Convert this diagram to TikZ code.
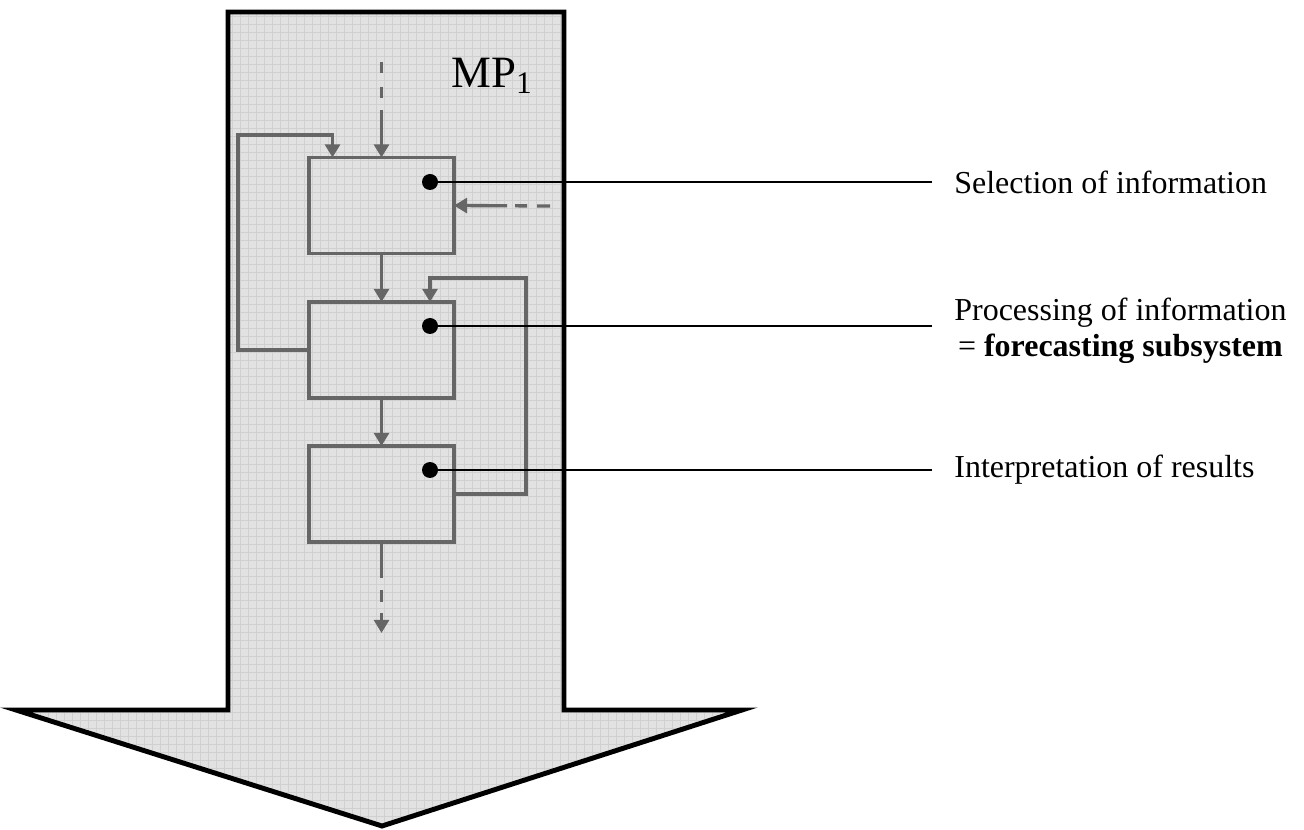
\documentclass[tikz,border=0pt]{standalone}
\usepackage{fontspec}
\setmainfont{Liberation Serif}
\usetikzlibrary{arrows.meta}
\definecolor{fillgray}{HTML}{E2E2E2}
\definecolor{gridgray}{HTML}{D0D0D0}
\definecolor{conngray}{HTML}{666666}
\tikzset{
  procbox/.style={draw=conngray, line width=2pt, minimum width=2.9cm, minimum height=1.92cm, inner sep=0pt, outer sep=0pt},
  conn/.style={draw=conngray, line width=1.9pt, -{Triangle[length=7.5pt,width=8.5pt]}},
  feedback/.style={draw=conngray, line width=1.9pt, -{Triangle[length=7.5pt,width=8.5pt]}},
  leader/.style={draw=black, line width=1.2pt},
  pin/.style={circle, fill=black, inner sep=0pt, minimum size=0.32cm},
  label/.style={anchor=west, inner sep=0pt, font=\fontsize{18.2pt}{20.5pt}\selectfont}
}
\begin{document}
\begin{tikzpicture}[x=0.02cm, y=-0.02cm]
\useasboundingbox (0,0) rectangle (1304,830);
% big arrow
\path[fill=fillgray] (228,12) -- (564,12) -- (564,710) -- (742,710) -- (382,826) -- (16,710) -- (228,710) -- cycle;
\begin{scope}
\clip (228,12) -- (564,12) -- (564,710) -- (742,710) -- (382,826) -- (16,710) -- (228,710) -- cycle;
\draw[gridgray, line width=0.4pt, step=0.16cm] (0,0) grid (800,830);
\end{scope}
\draw[line width=2.8pt, line join=miter] (228,12) -- (564,12) -- (564,710) -- (742,710) -- (382,826) -- (16,710) -- (228,710) -- cycle;
% title
\node[anchor=west, inner sep=0pt, font=\fontsize{25.5pt}{28pt}\selectfont] (mp) at (451,76) {MP\textsubscript{1}};
% boxes
\node[procbox] (b1) at (381.5,205.5) {};
\node[procbox] (b2) at (381.5,350) {};
\node[procbox] (b3) at (381.5,494) {};
% coordinates
\coordinate (topin) at (381.5,62);
\coordinate (rightin) at (550,206);
\coordinate (botout) at (381.5,633);
\coordinate (lt) at (238,135);
\coordinate (rt) at (526,278);
% connectors
\draw[conn, dash pattern=on 0.22cm off 0.28cm on 0.22cm off 0.24cm on 3cm] (topin) -- (b1.north);
\draw[conn, dash pattern=on 0.26cm off 0.2cm on 0.24cm off 0.16cm on 3cm] (rightin) -- (b1.east);
\draw[conn] (b1.south) -- (b2.north);
\draw[conn] (b2.south) -- (b3.north);
\draw[conn, dash pattern=on 0.72cm off 0.24cm on 0.24cm off 0.22cm on 3cm] (b3.south) -- (botout);
\draw[feedback] (b2.west) -| (lt) -| ([xshift=-0.98cm]b1.north);
\draw[feedback] (b3.east) -| (rt) -| ([xshift=0.97cm]b2.north);
% pins and leaders
\node[pin] (p1) at (430,182) {};
\node[pin] (p2) at (430,326) {};
\node[pin] (p3) at (430,470) {};
\node[label] (l1) at (954,182) {Selection of information};
\node[label, align=center] (l2) at (954,331) {Processing of information\\= \textbf{forecasting subsystem}};
\node[label] (l3) at (954,470) {Interpretation of results};
\coordinate (e1) at (932,182);
\coordinate (e2) at (932,326);
\coordinate (e3) at (932,470);
\draw[leader] (p1.center) -- (e1);
\draw[leader] (p2.center) -- (e2);
\draw[leader] (p3.center) -- (e3);
\end{tikzpicture}
\end{document}
